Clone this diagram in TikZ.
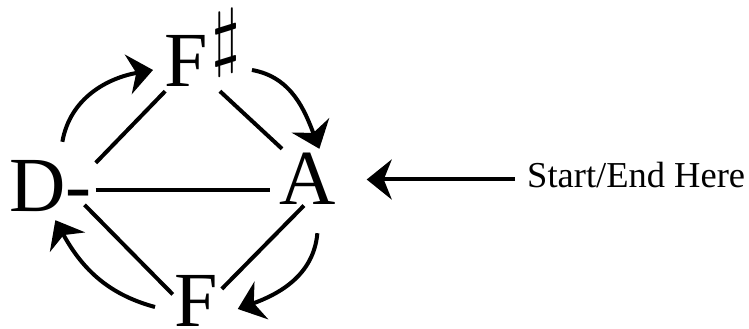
\documentclass[tikz,border=0pt]{standalone}
\usepackage{fontspec}
\usepackage{graphicx}
\setmainfont{Liberation Serif}
\usetikzlibrary{arrows.meta,calc}

\begin{document}
\begin{tikzpicture}[
  x=1pt, y=1pt,
  chord/.style={inner sep=4pt, anchor=base west, text height=52pt, text depth=0pt, font=\fontsize{78pt}{78pt}\selectfont},
  link/.style={line width=4pt},
  arr/.style={-{Stealth[length=25pt,width=40pt,inset=8pt]}, line width=4pt},
  note/.style={inner xsep=12pt, inner ysep=0pt, anchor=base west, text height=24pt, text depth=7pt, font=\fontsize{36.5pt}{36.5pt}\selectfont}
]
\useasboundingbox (0,0) rectangle (749,329);

\node[chord] (D) at (5,117) {D-};
\node[chord] (Fs) at (160,242) {F\hspace{4pt}\raisebox{25pt}{\scalebox{7.5}{\fontsize{10pt}{10pt}\selectfont$\sharp$}}};
\node[chord] (A) at (275,124) {A};
\node[chord] (F) at (170,2) {F};
\node[note] (start) at (515,141) {Start/End Here};

% triangle edges
\draw[link] (D.27) -- (Fs.219);
\draw[link] (Fs.-60) -- (A.130);
\draw[link, shorten >=5pt] (D.-5) -- (D.-5 -| A.west);
\draw[link, shorten <=-16pt, shorten >=-4pt] (D.south east) -- (F.160);
\draw[link, shorten <=-5pt] (A.257) -- (F.25);

% the cycle round the chords
\draw[arr] ([xshift=12pt,yshift=14pt]D.north) to[out=80, in=190] ([xshift=-7pt,yshift=-9pt]Fs.west);
\draw[arr] ([xshift=7pt,yshift=-9pt]Fs.east) to[out=-10, in=111] ([xshift=12pt]A.north);
\draw[arr] ([xshift=10pt,yshift=-24pt]A.south) to[out=-95, in=20] ([xshift=16pt,yshift=-8pt]F.east);
\draw[arr] ([xshift=-15pt,yshift=-6pt]F.west) to[out=165, in=-61] ([xshift=5pt,yshift=-4pt]D.south);

% where to begin
\draw[arr, shorten >=27pt] (start.west) -- (start.west -| A.east);

\end{tikzpicture}
\end{document}
